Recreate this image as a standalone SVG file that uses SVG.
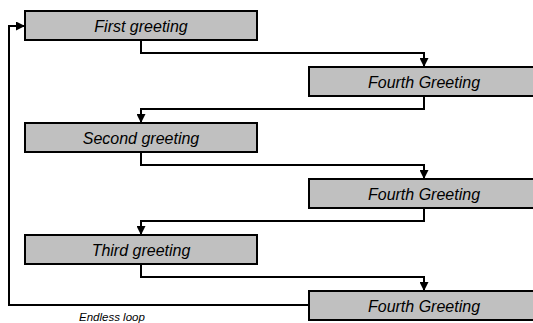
<svg xmlns="http://www.w3.org/2000/svg" width="533" height="323" viewBox="0 0 533 323">
  <style>
    .box { fill: #c0c0c0; stroke: #000; stroke-width: 2; }
    .label { font-family: "Liberation Sans", Arial, sans-serif; font-style: italic; font-size: 16px; fill: #000; text-anchor: middle; }
    .note { font-family: "Liberation Sans", Arial, sans-serif; font-style: italic; font-size: 11.5px; fill: #000; }
    .wire { fill: none; stroke: #000; stroke-width: 2; }
  </style>
  <defs>
    <marker id="arrow" viewBox="0 0 10 10" refX="10" refY="5" markerWidth="9" markerHeight="9" markerUnits="userSpaceOnUse" orient="auto">
      <path d="M0,0 L10,5 L0,10 Z" fill="#000"/>
    </marker>
  </defs>
  <rect width="533" height="323" fill="#fff"/>

  <g id="connectors">
    <path class="wire" d="M141,40 V53 H424 V67" marker-end="url(#arrow)"/>
    <path class="wire" d="M424,96 V109 H141 V123" marker-end="url(#arrow)"/>
    <path class="wire" d="M141,152 V165 H424 V179" marker-end="url(#arrow)"/>
    <path class="wire" d="M424,208 V221 H141 V235" marker-end="url(#arrow)"/>
    <path class="wire" d="M141,264 V277 H424 V291" marker-end="url(#arrow)"/>
    <path class="wire" d="M309,305 H9 V26 H25" marker-end="url(#arrow)"/>
  </g>

  <g id="first">
    <rect class="box" x="25" y="11" width="232" height="29"/>
    <text class="label" x="141" y="31.5">First greeting</text>
  </g>
  <g id="fourth-1">
    <rect class="box" x="309" y="67" width="232" height="29"/>
    <text class="label" x="424" y="87.5">Fourth Greeting</text>
  </g>
  <g id="second">
    <rect class="box" x="25" y="123" width="232" height="29"/>
    <text class="label" x="141" y="143.5">Second greeting</text>
  </g>
  <g id="fourth-2">
    <rect class="box" x="309" y="179" width="232" height="29"/>
    <text class="label" x="424" y="199.5">Fourth Greeting</text>
  </g>
  <g id="third">
    <rect class="box" x="25" y="235" width="232" height="29"/>
    <text class="label" x="141" y="255.5">Third greeting</text>
  </g>
  <g id="fourth-3">
    <rect class="box" x="309" y="291" width="232" height="29"/>
    <text class="label" x="424" y="311.5">Fourth Greeting</text>
  </g>

  <text class="note" x="79" y="320.5">Endless loop</text>
</svg>
